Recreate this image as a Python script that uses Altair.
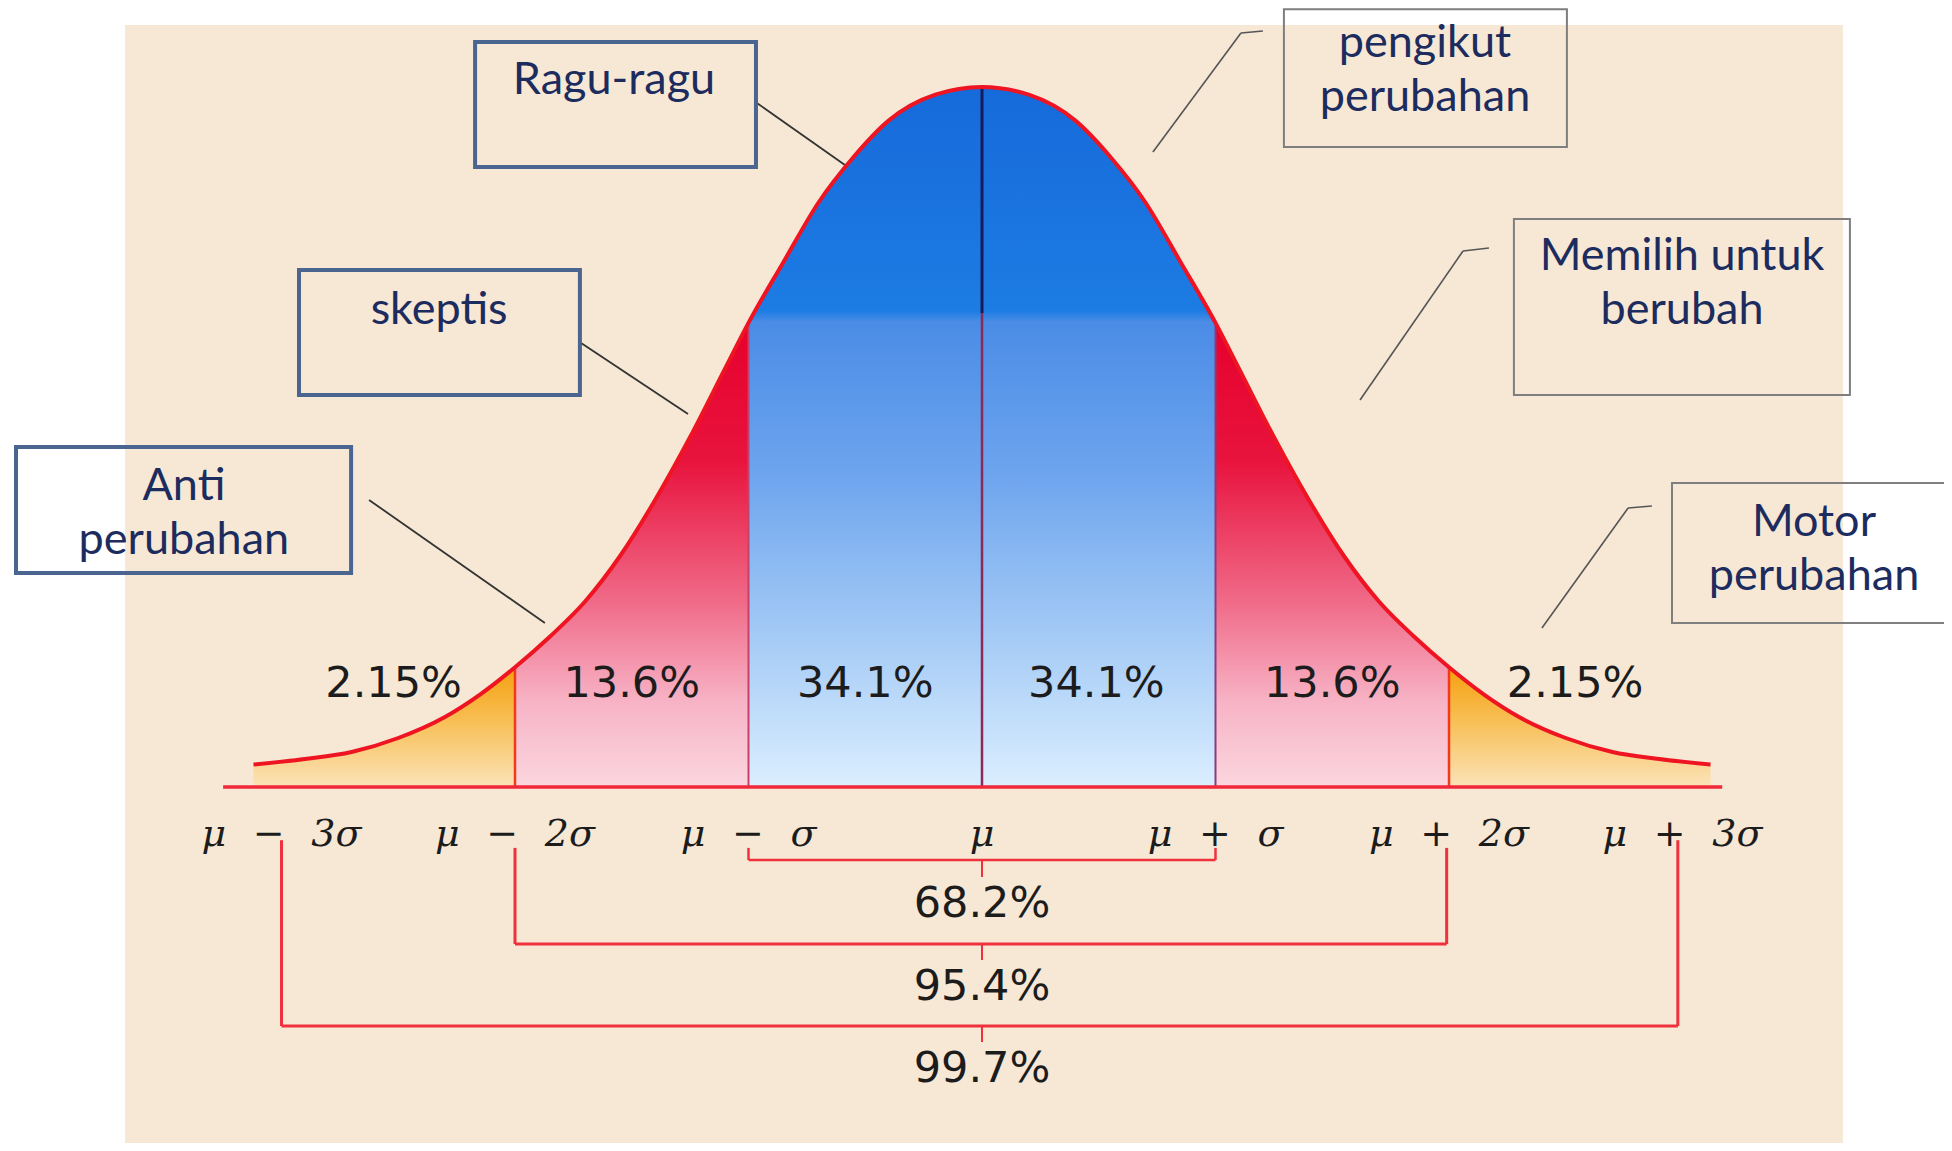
import altair as alt
import pandas as pd

# ---------------- data ----------------
# bell curve: position in sigma units, height (peak = 100)
curve_z = [-3.12, -2.9, -2.7, -2.5, -2.3, -2.15, -2.0, -1.85, -1.7, -1.55, -1.4, -1.25, -1.1, -1.0,
           -0.85, -0.7, -0.55, -0.4, -0.2, 0.0, 0.2, 0.4, 0.55, 0.7, 0.85, 1.0, 1.1, 1.25, 1.4,
           1.55, 1.7, 1.85, 2.0, 2.15, 2.3, 2.5, 2.7, 2.9, 3.12]
curve_h = [3.2, 4.0, 5.0, 7.0, 10.0, 13.2, 17.1, 21.5, 26.5, 33.0, 41.0, 50.0, 59.8, 66.3,
           75.0, 83.5, 90.0, 95.2, 98.9, 100.0, 98.9, 95.2, 90.0, 83.5, 75.0, 66.3, 59.8, 50.0, 41.0,
           33.0, 26.5, 21.5, 17.1, 13.2, 10.0, 7.0, 5.0, 4.0, 3.2]

region_names = ["tail_left", "red_left", "blue", "red_right", "tail_right"]
region_lo = [-3.12, -2.0, -1.0, 1.0, 2.0]
region_hi = [-2.0, -1.0, 1.0, 2.0, 3.12]

pct_labels = ["2.15%", "13.6%", "34.1%", "34.1%", "13.6%", "2.15%"]
pct_z = [-2.52, -1.50, -0.50, 0.49, 1.50, 2.54]

tick_labels = ["μ\u2002\u2009−\u2002\u20093σ", "μ\u2002\u2009−\u2002\u20092σ", "μ\u2002\u2009−\u2002\u2009σ", "μ",
               "μ\u2002\u2009+\u2002\u2009σ", "μ\u2002\u2009+\u2002\u20092σ", "μ\u2002\u2009+\u2002\u20093σ"]
tick_z = [-3, -2, -1, 0, 1, 2, 3]

range_labels = ["68.2%", "95.4%", "99.7%"]

box_lines = [["Ragu-ragu"], ["skeptis"], ["Anti", "perubahan"],
             ["pengikut", "perubahan"], ["Memilih untuk", "berubah"], ["Motor", "perubahan"]]

# ---------------- layout (data units: x = sigma, y = height) ----------------
bg = pd.DataFrame([{"x": -3.670, "x2": 3.687, "y": 108.86, "y2": -50.86}])

rows = []
for name, lo, hi in zip(region_names, region_lo, region_hi):
    for z, h in zip(curve_z, curve_h):
        if lo - 1e-9 <= z <= hi + 1e-9:
            rows.append({"region": name, "z": z, "h": h})
regions = pd.DataFrame(rows)
curve = pd.DataFrame({"z": curve_z, "h": curve_h})

boxes = pd.DataFrame([
    {"x": -2.171, "x2": -0.968, "y": 106.43, "y2": 88.57, "stroke": "#4b6591", "sw": 4},
    {"x": -2.925, "x2": -1.722, "y": 73.86, "y2": 56.00, "stroke": "#4b6591", "sw": 4},
    {"x": -4.137, "x2": -2.702, "y": 48.57, "y2": 30.57, "stroke": "#4b6591", "sw": 4},
    {"x": 1.293, "x2": 2.505, "y": 111.10, "y2": 91.43, "stroke": "#7f7f7f", "sw": 2},
    {"x": 2.278, "x2": 3.717, "y": 81.14, "y2": 56.00, "stroke": "#7f7f7f", "sw": 2},
    {"x": 2.955, "x2": 4.500, "y": 43.43, "y2": 23.43, "stroke": "#7f7f7f", "sw": 2},
])
box_cx = [-1.576, -2.325, -3.418, 1.897, 2.998, 3.563]
box_base = [[99.0], [66.14], [41.0, 33.29], [104.29, 96.57], [73.86, 66.14], [35.86, 28.14]]
box_text = pd.DataFrame([
    {"x": cx, "y": b, "t": t}
    for cx, lines, bases in zip(box_cx, box_lines, box_base)
    for t, b in zip(lines, bases)
])

RED = "#f0303c"
segs = pd.DataFrame([
    # boundaries and centre line
    {"x": -2.0, "x2": -2.0, "y": 0, "y2": 17.1, "c": "#f23a1a", "w": 2.5},
    {"x": 2.0, "x2": 2.0, "y": 0, "y2": 17.1, "c": "#f23a1a", "w": 2.5},
    {"x": -1.0, "x2": -1.0, "y": 0, "y2": 66.3, "c": "#c8406a", "w": 2},
    {"x": 1.0, "x2": 1.0, "y": 0, "y2": 66.3, "c": "#8a3a80", "w": 2},
    {"x": 0.0, "x2": 0.0, "y": 67.7, "y2": 100, "c": "#141a5c", "w": 3},
    {"x": 0.0, "x2": 0.0, "y": 0, "y2": 67.7, "c": "#8c2a55", "w": 2.5},
    # brackets
    {"x": -1.0, "x2": -1.0, "y": -8.7, "y2": -10.43, "c": RED, "w": 2.5},
    {"x": -1.0, "x2": 1.0, "y": -10.43, "y2": -10.43, "c": RED, "w": 2.5},
    {"x": 1.0, "x2": 1.0, "y": -8.7, "y2": -10.43, "c": RED, "w": 2.5},
    {"x": 0.0, "x2": 0.0, "y": -10.43, "y2": -12.86, "c": RED, "w": 2},
    {"x": -2.0, "x2": -2.0, "y": -8.7, "y2": -22.43, "c": RED, "w": 3},
    {"x": -2.0, "x2": 1.99, "y": -22.43, "y2": -22.43, "c": RED, "w": 3},
    {"x": 1.99, "x2": 1.99, "y": -8.7, "y2": -22.43, "c": RED, "w": 3},
    {"x": 0.0, "x2": 0.0, "y": -22.43, "y2": -24.71, "c": RED, "w": 2},
    {"x": -3.0, "x2": -3.0, "y": -7.6, "y2": -34.14, "c": RED, "w": 3},
    {"x": -3.0, "x2": 2.98, "y": -34.14, "y2": -34.14, "c": RED, "w": 3},
    {"x": 2.98, "x2": 2.98, "y": -7.6, "y2": -34.14, "c": RED, "w": 3},
    {"x": 0.0, "x2": 0.0, "y": -34.14, "y2": -36.43, "c": RED, "w": 2},
    # leader lines
    {"x": -0.964, "x2": -0.587, "y": 97.71, "y2": 88.86, "c": "#333333", "w": 1.8},
    {"x": -1.717, "x2": -1.259, "y": 63.43, "y2": 53.29, "c": "#333333", "w": 1.8},
    {"x": -2.625, "x2": -1.872, "y": 41.0, "y2": 23.43, "c": "#333333", "w": 1.8},
    {"x": 1.203, "x2": 1.109, "y": 108.0, "y2": 107.71, "c": "#555555", "w": 1.6},
    {"x": 1.109, "x2": 0.732, "y": 107.71, "y2": 90.71, "c": "#555555", "w": 1.6},
    {"x": 2.171, "x2": 2.060, "y": 77.0, "y2": 76.57, "c": "#555555", "w": 1.6},
    {"x": 2.060, "x2": 1.619, "y": 76.57, "y2": 55.29, "c": "#555555", "w": 1.6},
    {"x": 2.869, "x2": 2.767, "y": 40.14, "y2": 39.86, "c": "#555555", "w": 1.6},
    {"x": 2.767, "x2": 2.398, "y": 39.86, "y2": 22.71, "c": "#555555", "w": 1.6},
])
baseline = pd.DataFrame([{"x": -3.25, "x2": 3.17, "y": 0.0}])

pct_df = pd.DataFrame({"x": pct_z, "y": [12.86] * 6, "t": pct_labels})
tick_df = pd.DataFrame({"x": tick_z, "y": [-8.43] * 7, "t": tick_labels})
range_df = pd.DataFrame({"x": [0.0, 0.0, 0.0], "y": [-18.57, -30.43, -42.14], "t": range_labels})

# ---------------- scales ----------------
xs = alt.Scale(domain=[-4.17131, 4.11991], nice=False, zero=False)
ys = alt.Scale(domain=[-50.857, 111.2857], nice=False, zero=False)


def X(f):
    return alt.X(f, type="quantitative", scale=xs, axis=None)


def Y(f):
    return alt.Y(f, type="quantitative", scale=ys, axis=None)


def grad(stops):
    return alt.Gradient(gradient="linear", x1=0, x2=0, y1=0, y2=1,
                        stops=[alt.GradientStop(color=c, offset=o) for o, c in stops])


blue_g = grad([(0, "#166ada"), (0.32, "#1d7ce4"), (0.335, "#4a8ce6"),
               (0.55, "#6da4ee"), (0.8, "#a8cdf6"), (1, "#dbeeff")])
red_g = grad([(0, "#e6002c"), (0.3, "#e8143e"), (0.6, "#f06a88"),
              (0.82, "#f7b4c6"), (1, "#fbd6df")])
orange_g = grad([(0, "#f5a00e"), (0.45, "#f8bf55"), (1, "#fbe3b8")])

layers = []
layers.append(alt.Chart(bg).mark_rect(color="#f7e8d5").encode(
    x=X("x"), x2="x2", y=Y("y"), y2="y2"))

for name, g in [("tail_left", orange_g), ("red_left", red_g), ("blue", blue_g),
                ("red_right", red_g), ("tail_right", orange_g)]:
    layers.append(alt.Chart(regions).transform_filter(alt.datum.region == name)
                  .mark_area(color=g, interpolate="monotone")
                  .encode(x=X("z"), y=Y("h"), y2=alt.datum(0)))

layers.append(alt.Chart(segs).mark_rule().encode(
    x=X("x"), x2="x2", y=Y("y"), y2="y2",
    color=alt.Color("c:N", scale=None), strokeWidth=alt.StrokeWidth("w:Q", scale=None)))

layers.append(alt.Chart(curve).mark_line(color="#ee1422", strokeWidth=4, interpolate="monotone")
              .encode(x=X("z"), y=Y("h")))

layers.append(alt.Chart(baseline).mark_rule(color="#f0283a", strokeWidth=3.5).encode(
    x=X("x"), x2="x2", y=Y("y")))

layers.append(alt.Chart(pct_df).mark_text(font="DejaVu Sans", fontSize=43, color="#1c1c1c",
                                          align="center", baseline="alphabetic")
              .encode(x=X("x"), y=Y("y"), text="t:N"))
layers.append(alt.Chart(range_df).mark_text(font="DejaVu Sans", fontSize=43, color="#1c1c1c",
                                            align="center", baseline="alphabetic")
              .encode(x=X("x"), y=Y("y"), text="t:N"))
layers.append(alt.Chart(tick_df).mark_text(font="DejaVu Serif", fontStyle="italic", fontSize=38,
                                           color="#1c1c1c", align="center", baseline="alphabetic")
              .encode(x=X("x"), y=Y("y"), text="t:N"))

layers.append(alt.Chart(boxes).mark_rect(fillOpacity=0).encode(
    x=X("x"), x2="x2", y=Y("y"), y2="y2",
    stroke=alt.Stroke("stroke:N", scale=None), strokeWidth=alt.StrokeWidth("sw:Q", scale=None)))
layers.append(alt.Chart(box_text).mark_text(font="Lato", fontSize=45, color="#1d2c5e",
                                            align="center", baseline="alphabetic")
              .encode(x=X("x"), y=Y("y"), text="t:N"))

chart = alt.layer(*layers).properties(
    width=1936, height=1135,
    autosize=alt.AutoSizeParams(type="none"),
    padding=0, background="white",
).configure_view(stroke=None)

chart.save("out.html", embed_options={"renderer": "svg", "actions": False})
